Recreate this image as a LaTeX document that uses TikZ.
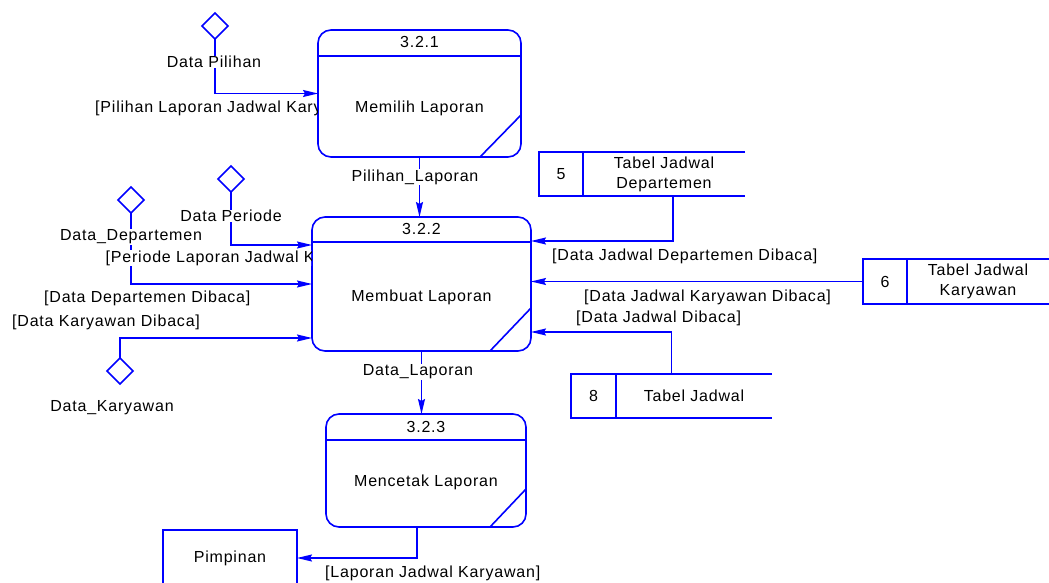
\documentclass[tikz,border=0pt]{standalone}
\usepackage{fontspec}
\setmainfont[LetterSpace=5]{Liberation Sans}
\usetikzlibrary{arrows.meta,shapes.geometric}

\begin{document}
\begin{tikzpicture}[x=1pt,y=-1pt,
  font=\fontsize{16}{20}\selectfont,
  blueline/.style={draw=blue, line width=1.6pt},
  proc/.style={blueline, rectangle, rounded corners=13pt, fill=white, outer sep=0pt, inner sep=0pt},
  store/.style={rectangle, outer sep=0pt, inner sep=0pt},
  ext/.style={blueline, rectangle, fill=white, outer sep=0pt, text=black},
  src/.style={blueline, diamond, aspect=1, minimum width=26pt, minimum height=26pt, inner sep=0pt, outer sep=0pt, fill=white},
  flow/.style={blueline, -{Stealth[length=15pt,width=7pt,inset=2pt]}},
  txt/.style={inner sep=0pt, text=black},
  tag/.style={txt, fill=white, inner sep=0.5pt},
]
\useasboundingbox (0,0) rectangle (1049,583);
\clip (0,0) rectangle (1049,583);

% ---------- processes ----------
\node[proc, minimum width=203pt, minimum height=127pt] (p1) at (419.5,93.5) {};
\draw[blueline] ([yshift=-26pt]p1.north west) -- ([yshift=-26pt]p1.north east);
\draw[blueline] ([yshift=42pt]p1.south east) -- ([xshift=-41pt]p1.south east);
\node[txt] (p1id) at (419.5,42) {3.2.1};
\node[txt] (p1name) at (419.5,108) {Memilih Laporan};

\node[proc, minimum width=219pt, minimum height=134pt] (p2) at (421.5,284) {};
\draw[blueline] ([yshift=-25pt]p2.north west) -- ([yshift=-25pt]p2.north east);
\draw[blueline] ([yshift=43pt]p2.south east) -- ([xshift=-41pt]p2.south east);
\node[txt] (p2id) at (421.5,229) {3.2.2};
\node[txt] (p2name) at (421.5,297) {Membuat Laporan};

\node[proc, minimum width=200pt, minimum height=113pt] (p3) at (426,470.5) {};
\draw[blueline] ([yshift=-26pt]p3.north west) -- ([yshift=-26pt]p3.north east);
\draw[blueline] ([yshift=38pt]p3.south east) -- ([xshift=-36pt]p3.south east);
\node[txt] (p3id) at (426,427) {3.2.3};
\node[txt] (p3name) at (426,482) {Mencetak Laporan};

% ---------- data stores ----------
\node[store, minimum width=206pt, minimum height=44pt] (s5) at (642,174) {};
\draw[blueline] (s5.north east) -- (s5.north west) -- (s5.south west) -- (s5.south east);
\draw[blueline] ([xshift=44pt]s5.north west) -- ([xshift=44pt]s5.south west);
\node[txt] (s5id) at (561,174) {5};
\node[txt, align=center] (s5name) at (664,174) {Tabel Jadwal\\Departemen};

\node[store, minimum width=190pt, minimum height=45pt] (s6) at (958,281.5) {};
\draw[blueline] (s6.north east) -- (s6.north west) -- (s6.south west) -- (s6.south east);
\draw[blueline] ([xshift=44pt]s6.north west) -- ([xshift=44pt]s6.south west);
\node[txt] (s6id) at (885,281.5) {6};
\node[txt, align=center] (s6name) at (978,281.5) {Tabel Jadwal\\Karyawan};

\node[store, minimum width=201pt, minimum height=44pt] (s8) at (671.5,396) {};
\draw[blueline] (s8.north east) -- (s8.north west) -- (s8.south west) -- (s8.south east);
\draw[blueline] ([xshift=45pt]s8.north west) -- ([xshift=45pt]s8.south west);
\node[txt] (s8id) at (593.5,396) {8};
\node[txt] (s8name) at (694,396) {Tabel Jadwal};

% ---------- external entity ----------
\node[ext, minimum width=134pt, minimum height=56pt] (ent) at (230,558) {Pimpinan};

% ---------- data sources ----------
\node[src] (d1) at (215,26) {};
\node[src] (d2) at (231,179) {};
\node[src] (d3) at (131,200) {};
\node[src] (d4) at (120,371) {};

% ---------- flows ----------
\draw[flow] (d1.south) |- (p1.west);
\draw[flow] (p1.south) -- (p1.south |- p2.north);
\draw[flow] (d2.south) |- ([yshift=39pt]p2.west);
\draw[flow] (d3.south) |- (p2.west);
\draw[flow] (d4.north) |- ([yshift=-54pt]p2.west);
\draw[flow] ([xshift=31pt]s5.south) |- ([yshift=43pt]p2.east);
\draw[flow] (s6.west) -- (s6.west -| p2.east);
\draw[flow] (s8.north) |- ([yshift=-48pt]p2.east);
\draw[flow] (p2.south) -- (p2.south |- p3.north);
\draw[flow] ([xshift=-9pt]p3.south) |- (ent.east);

% ---------- flow labels ----------
\node[tag] (lpil) at (214,62) {Data Pilihan};
\node[tag] (lper) at (231,216) {Data Periode};
\node[tag] (ldep) at (131,237) {Data\_Departemen};
\node[txt] (lkar) at (112,408) {Data\_Karyawan};
\node[tag] (lpl) at (415,177) {Pilihan\_Laporan};
\node[tag] (ldl) at (418,372) {Data\_Laporan};

% labels cut short by the process boxes
\begin{scope}
  \clip (0,0) rectangle (317.2,200);
  \node[txt, anchor=west] (fpil) at (95,108) {[Pilihan Laporan Jadwal Kary};
\end{scope}
\begin{scope}
  \clip (0,200) rectangle (311.2,300);
  \node[tag, anchor=west] (fper) at (105,258) {[Periode Laporan Jadwal K};
\end{scope}
\node[txt, anchor=west] (fdep) at (44,298) {[Data Departemen Dibaca]};
\node[txt, anchor=west] (fkar) at (12,322) {[Data Karyawan Dibaca]};
\node[txt, anchor=west] (fjd) at (552,256) {[Data Jadwal Departemen Dibaca]};
\node[txt, anchor=west] (fjk) at (584,297) {[Data Jadwal Karyawan Dibaca]};
\node[txt, anchor=west] (fj) at (576,318) {[Data Jadwal Dibaca]};
\node[txt, anchor=west] (flap) at (325,573) {[Laporan Jadwal Karyawan]};
\end{tikzpicture}
\end{document}
